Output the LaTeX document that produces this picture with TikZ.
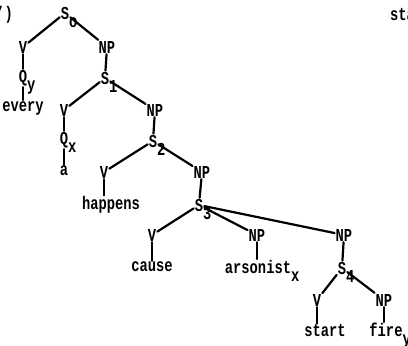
\documentclass[tikz,border=0pt]{standalone}
\usepackage{graphicx}
\usepackage{fontspec}
\setmainfont{Liberation Mono}
\newcommand\tsub[1]{\rlap{\smash{\raisebox{-6pt}{#1}}}}
\newcommand\T[1]{\scalebox{1.02}[1.35]{#1}}
\begin{document}
\begin{tikzpicture}[x=1pt,y=-1pt,
  lab/.style={font=\fontsize{13.5}{14}\selectfont\bfseries, inner sep=1pt},
  br/.style={line width=2.2pt, line cap=round},
]
\useasboundingbox (0,0) rectangle (408,346);
% stray labels at the edges
\node[lab, anchor=east] (prime) at (14,15) {\T{\char"0027)}};
\node[lab, anchor=west] (sta) at (389,15) {\T{sta}};
% level 0
\node[lab] (S0) at (65,13) {\T{S\tsub{o}}};
\node[lab] (V0) at (23,47) {\T{V}};
\node[lab] (NP0) at (107,47) {\T{NP}};
\node[lab] (Q0) at (23,78) {\T{Q\tsub{y}}};
\node[lab] (every) at (23,108) {\T{every}};
% level 1
\node[lab] (S1) at (105,78) {\T{S\tsub{1}}};
\node[lab] (V1) at (64,110) {\T{V}};
\node[lab] (NP1) at (155,110) {\T{NP}};
\node[lab] (Q1) at (64,140) {\T{Q\tsub{x}}};
\node[lab] (a) at (64,171) {\T{a}};
% level 2
\node[lab] (S2) at (153,141) {\T{S\tsub{2}}};
\node[lab] (V2) at (104,172) {\T{V}};
\node[lab] (NP2) at (202,172) {\T{NP}};
\node[lab] (happens) at (111,205) {\T{happens}};
% level 3
\node[lab] (S3) at (199,205) {\T{S\tsub{3}}};
\node[lab] (V3) at (152,235) {\T{V}};
\node[lab] (NP3) at (257,235) {\T{NP}};
\node[lab] (NP4) at (344,235) {\T{NP}};
\node[lab] (cause) at (152,267) {\T{cause}};
\node[lab] (arsonist) at (258,267) {\T{arsonist\tsub{x}}};
% level 4
\node[lab] (S4) at (342,268) {\T{S\tsub{4}}};
\node[lab] (V4) at (317,300) {\T{V}};
\node[lab] (NP5) at (384,300) {\T{NP}};
\node[lab] (start) at (325,331) {\T{start}};
\node[lab] (fire) at (386,330) {\T{fire\tsub{y}}};
% branches
\draw[br] (S0) -- (V0);
\draw[br] (S0) -- (NP0);
\draw[br] (V0) -- (Q0);
\draw[br] (Q0) -- (every);
\draw[br] (NP0) -- (S1);
\draw[br] (S1) -- (V1);
\draw[br] (S1) -- (NP1);
\draw[br] (V1) -- (Q1);
\draw[br] (Q1) -- (a);
\draw[br] (NP1) -- (S2);
\draw[br] (S2) -- (V2);
\draw[br] (S2) -- (NP2);
\draw[br] (V2.south) -- (V2.south |- happens.north);
\draw[br] (NP2) -- (S3);
\draw[br] (S3) -- (V3);
\draw[br] (S3) -- (NP3);
\draw[br] (S3) -- (NP4);
\draw[br] (V3) -- (cause);
\draw[br] (NP3) -- (NP3 |- arsonist.north);
\draw[br] (NP4) -- (S4);
\draw[br] (S4) -- (V4);
\draw[br] (S4) -- (NP5);
\draw[br] (V4.south) -- (V4.south |- start.north);
\draw[br] (NP5.south) -- (NP5.south |- fire.north);
\end{tikzpicture}
\end{document}
